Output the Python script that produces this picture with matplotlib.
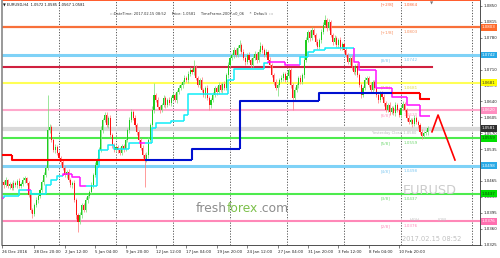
import matplotlib
matplotlib.use("Agg")
import matplotlib.pyplot as plt
from matplotlib.transforms import blended_transform_factory, ScaledTranslation

# ---------------- data ----------------
closes = [1.0463,1.0456,1.0467,1.0454,1.0458,1.0449,1.0460,1.0456,1.0465,1.0454,
1.0458,1.0467,1.0471,1.0460,1.0434,1.0401,1.0392,1.0412,1.0423,1.0432,
1.0445,1.0463,1.0478,1.0493,1.0577,1.0584,1.0555,1.0533,1.0540,1.0527,
1.0515,1.0507,1.0493,1.0478,1.0485,1.0467,1.0456,1.0460,1.0423,1.0390,
1.0375,1.0390,1.0412,1.0401,1.0423,1.0432,1.0441,1.0456,1.0478,1.0500,
1.0511,1.0533,1.0577,1.0599,1.0610,1.0588,1.0603,1.0566,1.0544,1.0533,
1.0540,1.0533,1.0527,1.0542,1.0535,1.0555,1.0577,1.0599,1.0617,1.0603,
1.0588,1.0573,1.0555,1.0537,1.0522,1.0511,1.0522,1.0555,1.0588,1.0621,
1.0654,1.0643,1.0627,1.0621,1.0632,1.0647,1.0632,1.0643,1.0636,1.0647,
1.0654,1.0643,1.0661,1.0669,1.0676,1.0683,1.0691,1.0687,1.0700,1.0709,
1.0705,1.0713,1.0691,1.0676,1.0687,1.0665,1.0654,1.0669,1.0647,1.0632,
1.0643,1.0654,1.0669,1.0661,1.0676,1.0665,1.0678,1.0669,1.0698,1.0720,
1.0735,1.0742,1.0753,1.0742,1.0757,1.0764,1.0749,1.0735,1.0727,1.0742,
1.0731,1.0720,1.0735,1.0744,1.0731,1.0749,1.0762,1.0753,1.0742,1.0749,
1.0731,1.0720,1.0698,1.0683,1.0669,1.0676,1.0687,1.0691,1.0700,1.0687,
1.0696,1.0709,1.0676,1.0647,1.0665,1.0676,1.0691,1.0683,1.0698,1.0731,
1.0775,1.0793,1.0779,1.0797,1.0786,1.0771,1.0760,1.0775,1.0793,1.0808,
1.0819,1.0801,1.0815,1.0786,1.0771,1.0779,1.0764,1.0775,1.0757,1.0766,
1.0753,1.0742,1.0727,1.0735,1.0713,1.0705,1.0718,1.0698,1.0676,1.0654,
1.0669,1.0687,1.0691,1.0676,1.0665,1.0683,1.0669,1.0654,1.0643,1.0658,
1.0650,1.0636,1.0621,1.0632,1.0617,1.0625,1.0614,1.0632,1.0621,1.0610,
1.0625,1.0634,1.0621,1.0603,1.0595,1.0599,1.0590,1.0603,1.0595,1.0588,
1.0573,1.0564,1.0570,1.0572,1.0581]
first_open = 1.0460

up_wick_pips = [5,4,6,3,5,4,6,5,4,7,
4,6,5,3,4,6,5,4,6,5,
4,5,6,5,77,6,5,4,6,5,
4,5,6,4,5,6,5,4,6,5,
5,6,4,5,6,5,4,6,5,7,
5,6,8,5,7,6,5,6,4,5,
5,4,6,5,4,6,5,7,6,5,
6,5,4,5,6,5,7,6,5,8,
26,5,6,4,5,6,5,4,6,5,
6,5,4,6,5,4,6,5,6,7,
5,18,6,5,4,6,5,4,6,5,
5,6,4,5,6,5,4,6,5,6,
6,5,7,5,6,11,5,6,4,5,
6,5,4,6,5,6,9,5,4,6,
5,6,4,5,6,5,4,6,5,5,
6,5,4,5,6,5,4,6,5,7,
6,5,4,6,5,4,6,5,6,7,
11,5,6,4,5,6,5,4,6,5,
5,6,4,5,6,5,4,6,5,4,
5,6,4,5,6,5,4,6,5,4,
5,6,4,5,6,5,4,6,5,4,
5,6,4,5,6,5,4,6,5,4,
5,6,4,5,4]
dn_wick_pips = [4,6,5,4,6,5,4,5,6,4,
5,4,6,5,4,6,9,5,4,6,
5,4,6,5,4,6,5,4,6,5,
4,6,5,4,6,5,4,6,5,8,
22,5,6,4,5,6,5,4,6,5,
6,5,4,6,5,4,6,5,6,5,
4,6,5,4,6,5,4,6,5,4,
5,6,4,5,6,59,5,6,4,5,
6,5,4,6,5,4,6,5,4,6,
5,4,6,5,4,6,5,4,6,5,
4,6,5,4,6,5,4,6,5,10,
6,5,4,6,5,4,6,5,4,6,
5,4,6,5,4,6,5,4,6,5,
4,6,5,4,6,5,4,6,5,4,
6,5,4,6,5,18,5,4,6,5,
4,5,6,26,5,4,6,5,4,6,
5,4,6,5,4,6,5,4,6,5,
4,6,5,4,6,5,4,6,5,4,
6,5,4,6,5,4,6,5,4,6,
5,4,6,5,4,6,5,4,6,5,
4,6,5,4,6,5,4,6,5,4,
6,5,4,6,5,4,6,5,4,6,
5,6,5,5,5]

date_labels = ["26 Dec 2016", "28 Dec 20:00", "2 Jan 12:00", "5 Jan 04:00", "9 Jan 20:00",
               "12 Jan 12:00", "17 Jan 04:00", "19 Jan 20:00", "24 Jan 12:00", "27 Jan 04:00",
               "31 Jan 20:00", "3 Feb 12:00", "8 Feb 04:00", "10 Feb 20:00"]
date_label_bars = [0, 17, 33, 49, 65, 81, 97, 113, 129, 145, 161, 177, 193, 209]
grid_bars = [30, 60, 90, 120, 150, 180, 210, 247.4]
price_ticks = [1.0325, 1.0360, 1.0395, 1.0430, 1.0465, 1.0535, 1.0570, 1.0605,
               1.0640, 1.0675, 1.0710, 1.0780, 1.0815, 1.0850]

murrey_names = ["[+2/8]", "[+1/8]", "[8/8]", "[7/8]", "[6/8]", "[5/8]", "[4/8]", "[3/8]", "[2/8]"]
murrey_values = [1.0864, 1.0803, 1.0742, 1.0681, 1.0620, 1.0559, 1.0498, 1.0437, 1.0376]
murrey_colors = ["#FF5A2A", "#F8703A", "#7FD2F7", "#FFFF55", "#FFA8CC", "#4DEB4D", "#7FD2F7", "#4DEB4D", "#FF88B8"]
murrey_widths = [1.4, 1.6, 2.2, 1.5, 1.5, 1.5, 2.2, 1.5, 1.5]
murrey_text_colors = ["#FF6A3A", "#F89060", "#7FC8F0", "#E0E040", "#FF9CC4", "#70D870", "#7FC8F0", "#70D870", "#FF88B8"]

pivot_value = 1.0716
pivot_end_bar = 226.3
yesterday_close = 1.0580
current_price = 1.0581

# trend step line: (start bar, end bar, price, colour)
trend_segments = [(0, 5, 1.0522, "r"), (5, 75, 1.0511, "r"), (75, 100, 1.0511, "b"),
                  (100, 125, 1.0535, "b"), (125, 167, 1.0641, "b"), (167, 205, 1.0658, "b"),
                  (205, 220, 1.0658, "r"), (220, 225, 1.0645, "r")]
# cyan / magenta stop line
stop_segments = [(0, 1, 1.0427, "m"), (1, 9, 1.0432, "c"), (9, 13, 1.0445, "c"), (13, 15, 1.0445, "m"),
                 (15, 23, 1.0436, "c"), (23, 26, 1.0456, "c"), (26, 29, 1.0467, "c"), (29, 32, 1.0476, "c"),
                 (32, 37, 1.0480, "m"), (37, 41, 1.0474, "m"), (41, 44, 1.0454, "m"), (44, 50, 1.0454, "c"),
                 (50, 51, 1.0496, "c"), (51, 56, 1.0533, "c"), (56, 59, 1.0544, "c"), (59, 67, 1.0535, "c"),
                 (67, 72, 1.0548, "c"), (72, 75, 1.0548, "m"), (75, 79, 1.0548, "c"), (79, 81, 1.0581, "c"),
                 (81, 89, 1.0592, "c"), (89, 96, 1.0597, "c"), (96, 98, 1.0610, "c"), (98, 119, 1.0656, "c"),
                 (119, 122, 1.0687, "c"), (122, 138, 1.0711, "c"), (138, 140, 1.0724, "c"), (140, 149, 1.0727, "m"),
                 (149, 157, 1.0720, "m"), (157, 161, 1.0738, "c"), (161, 164, 1.0749, "c"), (164, 170, 1.0753, "c"),
                 (170, 185, 1.0757, "c"), (185, 188, 1.0727, "m"), (188, 197, 1.0709, "m"), (197, 205, 1.0669, "m"),
                 (205, 213, 1.0650, "m"), (213, 220, 1.0632, "m"), (220, 225, 1.0608, "m")]
forecast_bars = [226.3, 229.5, 238.4]
forecast_prices = [1.0573, 1.0610, 1.0511]

box_values = [1.0803, 1.0742, 1.0681, 1.0620, 1.0581, 1.0559, 1.0498, 1.0437, 1.0376]
box_colors = ["#FF6A2A", "#2AAAE6", "#FFFF00", "#FF8EC0", "#303030", "#00E000", "#2AAAE6", "#00E000", "#FF70B0"]
box_text_colors = ["white", "white", "#333333", "white", "white", "#114411", "white", "#114411", "white"]

# ---------------- figure ----------------
W, H, DPI = 500, 258, 100
fig = plt.figure(figsize=(W / DPI, H / DPI), dpi=DPI)
fig.patch.set_facecolor("white")
ax = fig.add_axes([2 / W, 1 - 245 / H, 478 / W, 245 / H])
PX = 1.9
ax.set_xlim(0, 478 / PX)
ax.set_ylim(1.0324, 1.0863)
ax.set_facecolor("white")
FONT = "DejaVu Sans"

# grid
for gb in grid_bars:
    ax.axvline(gb, color="#555555", lw=0.7, ls=(0, (1.2, 1.6)), zorder=0.5)

# levels
for v, c, lw in zip(murrey_values, murrey_colors, murrey_widths):
    ax.axhline(v, color=c, lw=lw, zorder=1)
ax.axhline(yesterday_close, color="#D9D9D9", lw=3.0, zorder=0.9)
ax.plot([0, pivot_end_bar], [pivot_value, pivot_value], color="#D0203F", lw=1.5, zorder=1)

off = ScaledTranslation(0, -0.05, fig.dpi_scale_trans)
for n, v, tc in zip(murrey_names, murrey_values, murrey_text_colors):
    ax.text(199.5, v, n, transform=ax.transData + off, fontsize=3.0, color=tc,
            va="center", ha="left", family=FONT, zorder=2)
    ax.text(211.6, v, "%.4f" % v, transform=ax.transData + off, fontsize=3.0, color=tc,
            va="center", ha="left", family=FONT, zorder=2)

# candles
opens = [first_open] + closes[:-1]
for i, (o, c) in enumerate(zip(opens, closes)):
    hi = max(o, c) + up_wick_pips[i] / 10000.0
    lo = min(o, c) - dn_wick_pips[i] / 10000.0
    bull = c >= o
    col = "#1FCC1F" if bull else "#FF1414"
    wcol = "#7FE07F" if bull else "#FF8080"
    ax.vlines(i, lo, hi, colors=wcol, lw=0.55, zorder=2)
    ax.bar(i, max(abs(c - o), 0.00006), bottom=min(o, c), width=0.55, color=col,
           linewidth=0, zorder=2.1)

# indicator lines
def step(segs, cmap, lw, z):
    prev = None
    for s, e, v, c in segs:
        xs, ys = [s, e], [v, v]
        if prev is not None and prev != v:
            xs, ys = [s, s, e], [prev, v, v]
        ax.plot(xs, ys, color=cmap[c], lw=lw, zorder=z, solid_capstyle="butt")
        prev = v

step(stop_segments, {"c": "#10EEF8", "m": "#FF10FF"}, 1.1, 3)
step(trend_segments, {"r": "#FF0000", "b": "#0010D0"}, 1.5, 3.2)
ax.plot(forecast_bars, forecast_prices, color="#FF0000", lw=1.2, zorder=3.3)

# axes styling
ax.spines["top"].set_visible(False)
for sp in ["left", "right", "bottom"]:
    ax.spines[sp].set_color("#333333")
    ax.spines[sp].set_linewidth(0.6)
ax.spines["left"].set_color("#888888")
ax.spines["left"].set_linewidth(1.2)
ax.yaxis.tick_right()
ax.set_yticks(price_ticks)
ax.set_yticklabels(["%.4f" % p for p in price_ticks], fontsize=2.9, family=FONT)
ax.tick_params(axis="y", length=1.5, width=0.4, pad=1.2, colors="#222222")
ax.set_xticks(date_label_bars)
ax.set_xticklabels(date_labels, fontsize=2.9, family=FONT)
for lab in ax.get_xticklabels():
    lab.set_horizontalalignment("left")
ax.tick_params(axis="x", length=2, width=0.4, pad=1.5, colors="#222222")

# price boxes on right axis
bt = blended_transform_factory(ax.transAxes, ax.transData)
for v, bc, tc in zip(box_values, box_colors, box_text_colors):
    ax.text(1.004, v, "%.4f" % v, transform=bt, fontsize=2.9, color=tc, va="center", ha="left",
            family=FONT, clip_on=False, zorder=5,
            bbox=dict(boxstyle="square,pad=0.35", fc=bc, ec="none"))

# texts
def fp(x, y):
    return x / W, 1 - y / H

fig.text(*fp(3, 4.5), "\u25BC EURUSD,H4  1.0572 1.0585 1.0567 1.0581", fontsize=2.6,
         color="#111111", va="center", ha="left", family=FONT)
fig.text(*fp(110, 13), ":::DateTime: 2017.02.15 08:52     Price: 1.0581     TimeFrame-2007-v0_06     *  Default  :::",
         fontsize=2.6, color="#333333", va="center", ha="left", family=FONT)
fig.text(*fp(432, 3.5), "\u25BC", fontsize=3, color="#777777", va="center", ha="center", family=FONT)
fig.text(*fp(372, 133), "Yesterday Close 1.0580", fontsize=2.7, color="#BBBBBB", va="center",
         ha="left", family=FONT, zorder=1.5)
fig.text(*fp(403, 191), "EURUSD", fontsize=9.3, color="#CCCCCC", va="center", ha="left", family=FONT)
fig.text(*fp(410, 220), "HIGH", fontsize=2.8, color="#C0C0C0", va="center", ha="left", family=FONT)
fig.text(*fp(438, 220), "LOW", fontsize=2.8, color="#C0C0C0", va="center", ha="left", family=FONT)
fig.text(*fp(402, 239), "2017.02.15 08:52", fontsize=4.8, color="#C0C0C0", va="center", ha="left", family=FONT)

# watermark
fig.canvas.draw()
r = fig.canvas.get_renderer()
xpos = 196
for part, col in [("fresh", "#8C8C8C"), ("forex", "#7CC04A"), (".com", "#8C8C8C")]:
    t = fig.text(*fp(xpos, 209), part, fontsize=8.8, color=col, va="center", ha="left", family=FONT)
    bb = t.get_window_extent(renderer=r)
    xpos += bb.width

fig.savefig("out.png", dpi=DPI, facecolor="white")
